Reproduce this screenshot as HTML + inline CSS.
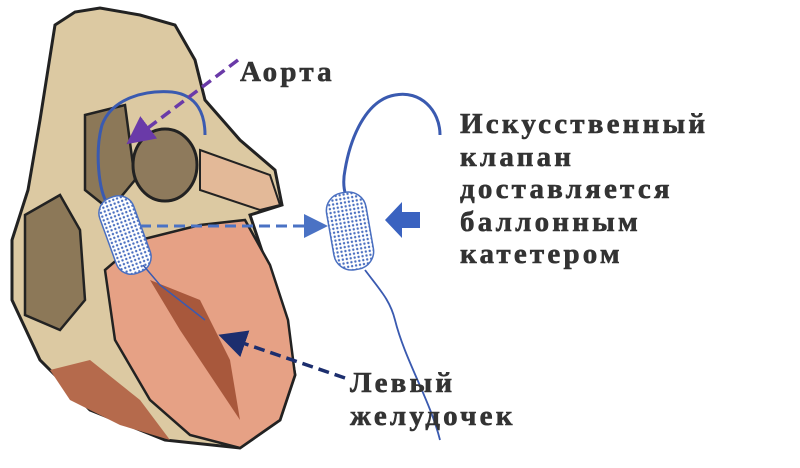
<!DOCTYPE html>
<html><head><meta charset="utf-8"><style>
body{margin:0;background:#fff;width:800px;height:468px;overflow:hidden;position:relative}
.t{position:absolute;font-family:"Liberation Serif","DejaVu Serif",serif;font-weight:900;color:#333;font-size:29px;letter-spacing:3.2px;line-height:32.5px;-webkit-text-stroke:0.6px #333}
</style></head><body>
<svg width="800" height="468" style="position:absolute;left:0;top:0">
<defs>
<pattern id="m" width="4" height="4" patternUnits="userSpaceOnUse"><rect width="4" height="4" fill="#fff"/><circle cx="2" cy="2" r="1.2" fill="#4a6fc0"/></pattern>
<marker id="a1" markerWidth="8" markerHeight="8" refX="6" refY="4" orient="auto"><path d="M0,0L8,4L0,8z" fill="#4a72c4"/></marker>
<marker id="a2" markerWidth="8" markerHeight="8" refX="6" refY="4" orient="auto"><path d="M0,0L8,4L0,8z" fill="#6a3aa8"/></marker>
<marker id="a3" markerWidth="8" markerHeight="8" refX="6" refY="4" orient="auto"><path d="M0,0L8,4L0,8z" fill="#1c2e6e"/></marker>
</defs>
<path d="M55,25 L75,12 L100,8 L140,15 L175,25 L195,60 L205,100 L240,140 L275,170 L282,205 L250,215 L265,260 L285,320 L295,375 L280,420 L240,448 L165,440 L90,410 L40,360 L12,300 L12,240 L28,190 L40,120 Z" fill="#dcc9a2" stroke="#222" stroke-width="3"/>
<path d="M105,270 L140,240 L200,225 L245,220 L270,265 L288,320 L295,375 L280,420 L240,448 L190,435 L150,400 L115,340 Z" fill="#e6a185" stroke="#222" stroke-width="2.5"/>
<path d="M50,370 L90,360 L140,400 L170,440 L120,425 L70,400Z" fill="#b56a4c"/>
<path d="M150,280 L200,300 L230,360 L240,420 L220,390 L180,330Z" fill="#a8583c"/>
<path d="M25,215 L60,195 L80,230 L85,300 L60,330 L25,315 Z" fill="#8c7858" stroke="#222" stroke-width="2.5"/>
<path d="M85,115 L125,105 L135,180 L110,210 L85,190 Z" fill="#8c7858" stroke="#222" stroke-width="2.5"/>
<ellipse cx="165" cy="165" rx="32" ry="36" fill="#8e7a5c" stroke="#222" stroke-width="3"/>
<path d="M200,150 L270,175 L280,205 L260,210 L200,190Z" fill="#e3b998" stroke="#222" stroke-width="2"/>
<path d="M108,205 C98,190 95,150 102,125 C112,98 145,90 172,92 C198,95 205,115 205,135" fill="none" stroke="#3a5ab0" stroke-width="3"/>
<g transform="rotate(-20 125 235)"><rect x="107" y="195" width="36" height="80" rx="16" fill="url(#m)" stroke="#4a6fc0" stroke-width="1.5"/></g>
<path d="M143,265 L160,285 L205,320" fill="none" stroke="#3a5ab0" stroke-width="1.5"/>
<line x1="140" y1="226" x2="322" y2="226" stroke="#4a72c4" stroke-width="3" stroke-dasharray="11,6" marker-end="url(#a1)"/>
<line x1="238" y1="60" x2="132" y2="140" stroke="#6a3aa8" stroke-width="3.5" stroke-dasharray="11,6" marker-end="url(#a2)"/>
<line x1="345" y1="378" x2="225" y2="337" stroke="#1c2e6e" stroke-width="3.5" stroke-dasharray="11,6" marker-end="url(#a3)"/>
<path d="M440,135 C440,110 420,90 395,95 C365,100 350,140 345,170 C342,185 345,195 348,200" fill="none" stroke="#3a5ab0" stroke-width="3"/>
<rect x="330" y="192" width="40" height="78" rx="18" fill="url(#m)" stroke="#4a6fc0" stroke-width="1.5" transform="rotate(-10 350 231)"/>
<path d="M365,270 C380,290 390,300 395,320 C405,360 430,400 440,440" fill="none" stroke="#3a5ab0" stroke-width="1.8"/>
<path d="M385,220 L402,202 L402,212 L420,212 L420,228 L402,228 L402,238 Z" fill="#3a62c0"/>
</svg>
<div class="t" style="left:240px;top:56px">Аорта</div>
<div class="t" style="left:460px;top:108px">Искусственный<br>клапан<br>доставляется<br>баллонным<br>катетером</div>
<div class="t" style="left:350px;top:367px">Левый<br>желудочек</div>
</body></html>
